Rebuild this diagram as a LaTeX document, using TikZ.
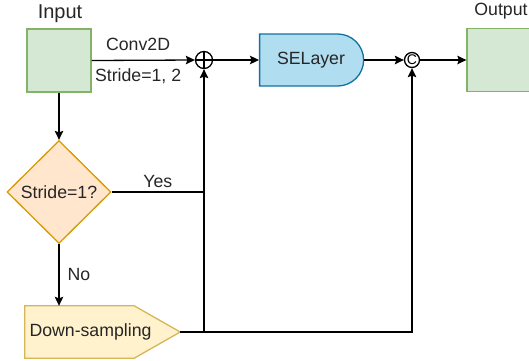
\documentclass[tikz,border=0pt]{standalone}
\usepackage{fontspec}
\setmainfont{Liberation Sans}
\usetikzlibrary{arrows.meta,shapes.geometric,shapes.misc,calc}
\definecolor{grnfill}{HTML}{D5E8D4}
\definecolor{grnline}{HTML}{82B366}
\definecolor{bluefill}{HTML}{B1DDF0}
\definecolor{blueline}{HTML}{10739E}
\definecolor{orgfill}{HTML}{FFE6CC}
\definecolor{orgline}{HTML}{D79B00}
\definecolor{yelfill}{HTML}{FFF2CC}
\definecolor{yelline}{HTML}{D6B656}
\definecolor{txt}{HTML}{262626}
\begin{document}
\begin{tikzpicture}[x=1pt,y=-1pt,
  font=\fontsize{17.7}{21}\selectfont, text=txt,
  every node/.style={inner sep=0pt},
  databox/.style={rectangle, draw=grnline, fill=grnfill, line width=1.3pt, minimum width=64pt, minimum height=63pt},
  bigtxt/.style={font=\fontsize{20}{24}\selectfont},
  conn/.style={line width=1.3pt, draw=black},
  arr/.style={conn, -{Stealth[length=9pt,width=8.5pt,inset=1.5pt]}},
  opcirc/.style={circle, draw=black, line width=1.3pt, fill=white}
]
\useasboundingbox (0,0) rectangle (529,360);
\clip (0,0) rectangle (529,360);

% nodes
\node[databox] (in) at (59,60.5) {};
\node[bigtxt] (inlbl) at (60,14) {Input};
\node[databox] (out) at (499,60) {};
\node (outlbl) at (501,11) {Output};

\node[opcirc, minimum size=17pt] (plus) at (204,60) {};
\draw[line width=1.3pt] (plus.north) -- (plus.south) (plus.west) -- (plus.east);

\node[rounded rectangle, rounded rectangle west arc=none, draw=blueline, fill=bluefill,
      line width=1.3pt, minimum width=104pt, minimum height=52pt] (se) at (311,60) {SELayer};

\node[opcirc, minimum size=15pt, font=\fontsize{14}{14}\selectfont, text=black] (cc) at (412,60) {C};

\node[diamond, draw=orgline, fill=orgfill, line width=1.3pt, aspect=1,
      minimum width=104pt, minimum height=103pt] (dia) at (59,192) {Stride=1?};

% down-sampling signal shape
\node[minimum width=155pt, minimum height=52pt] (ds) at (102.5,332) {};
\draw[draw=yelline, fill=yelfill, line width=1.3pt]
  (ds.north west) -- ($(ds.north east)+(-46,0)$) -- (ds.east)
  -- ($(ds.south east)+(-46,0)$) -- (ds.south west) -- cycle;
\node (dstxt) at (90.5,332) {Down-sampling};

% connectors
\draw[arr] (in.east) -- (plus.west)
  node[pos=0.45, above=9pt] (lconv) {Conv2D}
  node[pos=0.45, below=8pt] (lstride) {Stride=1, 2};
\draw[arr] (plus.east) -- (se.west);
\draw[arr] (se.east) -- (cc.west);
\draw[arr] (cc.east) -- (out.west);
\draw[arr] (in.south) -- (dia.north);
\coordinate (yj) at (plus |- dia.east);
\draw[conn] (dia.east) -- (yj) node[midway, above=4pt] (lyes) {Yes};
\draw[arr] (dia.south) -- (dia.south |- ds.north) node[midway, right=8pt] (lno) {No};
\draw[arr] (ds.east) -- (plus |- ds.east) -- (plus.south);
\draw[arr] (ds.east) -- (cc |- ds.east) -- (cc.south);
\end{tikzpicture}
\end{document}
